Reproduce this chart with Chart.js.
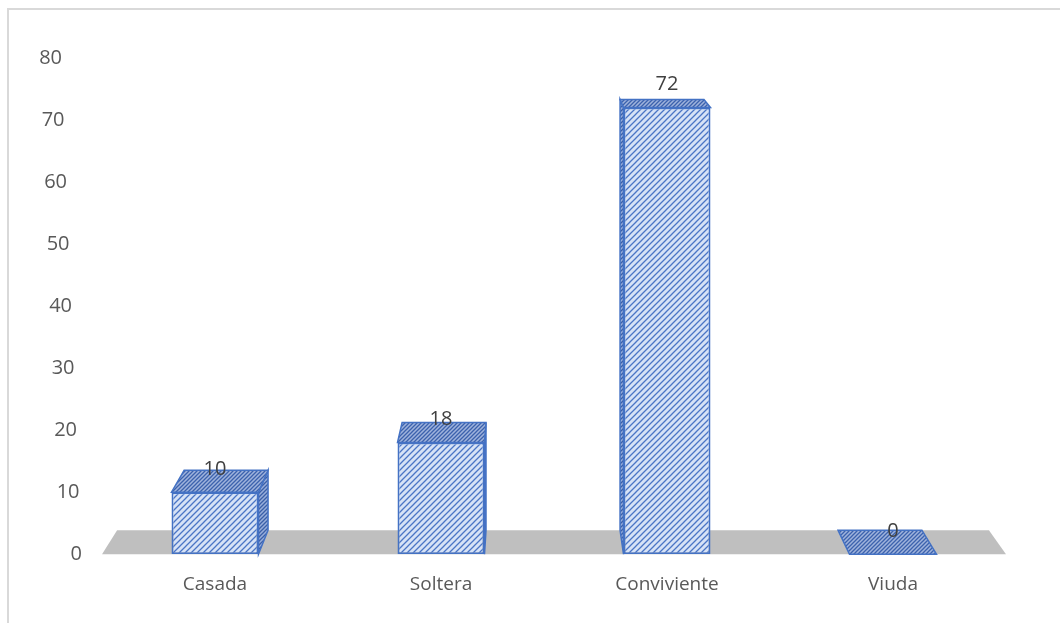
<!DOCTYPE html>
<html>
<head>
<meta charset="utf-8">
<script src="https://cdn.jsdelivr.net/npm/chart.js@4.4.1/dist/chart.umd.min.js"></script>
<style>
  html, body { margin: 0; padding: 0; background: #fff; overflow: hidden; }
  #frame {
    position: absolute; left: 7px; top: 8px; width: 1100px; height: 700px;
    border-left: 2px solid #d9d9d9; border-top: 2px solid #d9d9d9;
  }
  #wrap { position: absolute; left: 0; top: 0; width: 1060px; height: 623px; }
</style>
</head>
<body>
<div id="frame"></div>
<div id="wrap"><canvas id="chart"></canvas></div>
<script>
const categories = ['Casada', 'Soltera', 'Conviviente', 'Viuda'];
const values = [10, 18, 72, 0];
const yTicks = [0, 10, 20, 30, 40, 50, 60, 70, 80];

// diagonal hatch tile, lines going "/"
function hatch(bg, line, size, lw) {
  const c = document.createElement('canvas');
  c.width = size; c.height = size;
  const g = c.getContext('2d');
  g.fillStyle = bg;
  g.fillRect(0, 0, size, size);
  g.strokeStyle = line;
  g.lineWidth = lw;
  g.beginPath();
  g.moveTo(0, size); g.lineTo(size, 0);
  g.moveTo(-1, 1); g.lineTo(1, -1);
  g.moveTo(size - 1, size + 1); g.lineTo(size + 1, size - 1);
  g.stroke();
  return document.createElement('canvas').getContext('2d').createPattern(c, 'repeat');
}

const frontFill = hatch('#d6e2f6', '#4a75c5', 6, 1.3);
const topFill = hatch('#9fb3dc', '#3c62ad', 4, 1.3);
const sideFill = hatch('#98aedb', '#3a5fa8', 4, 1.3);
const edge = '#4472c4';

// simple perspective: back points pulled toward a vanishing point
function backPoint(vp, k, px, py) {
  return [px + (vp.x - px) * k, py + (vp.y - py) * k];
}

function poly(ctx, pts, fill, stroke) {
  ctx.beginPath();
  ctx.moveTo(pts[0][0], pts[0][1]);
  for (let i = 1; i < pts.length; i++) ctx.lineTo(pts[i][0], pts[i][1]);
  ctx.closePath();
  ctx.fillStyle = fill;
  ctx.fill();
  if (stroke) {
    ctx.strokeStyle = stroke;
    ctx.lineWidth = 1.5;
    ctx.stroke();
  }
}

const bar3d = {
  id: 'bar3d',
  beforeDatasetsDraw(chart) {
    const { ctx, chartArea: a } = chart;
    const vp = { x: a.left + 0.47 * (a.right - a.left), y: a.top - 180 };
    const k = 0.0356;
    const bp = (x, y) => backPoint(vp, k, x, y);
    ctx.save();
    // floor
    poly(ctx, [[a.left, a.bottom], [a.right, a.bottom], bp(a.right, a.bottom), bp(a.left, a.bottom)], '#bfbfbf');
    // sides and tops
    chart.getDatasetMeta(0).data.forEach((el) => {
      const l = el.x - el.width / 2, r = el.x + el.width / 2, t = el.y, b = el.base;
      if (t < b - 1) {
        if (vp.x > r) {
          poly(ctx, [[r, t], bp(r, t), bp(r, b), [r, b]], sideFill, edge);
        } else if (vp.x < l) {
          poly(ctx, [[l, t], bp(l, t), bp(l, b), [l, b]], sideFill, edge);
        }
      }
      poly(ctx, [[l, t], [r, t], bp(r, t), bp(l, t)], topFill, edge);
    });
    ctx.restore();
  },
  afterDatasetsDraw(chart) {
    const { ctx, chartArea: a, scales: { y } } = chart;
    ctx.save();
    ctx.font = '20px "Open Sans"';
    ctx.textBaseline = 'middle';
    // value labels
    ctx.fillStyle = '#404040';
    ctx.textAlign = 'center';
    chart.getDatasetMeta(0).data.forEach((el, i) => {
      ctx.fillText(String(values[i]), el.x, el.y - 23);
    });
    // y tick labels, slanted along the back wall
    ctx.fillStyle = '#595959';
    ctx.textAlign = 'right';
    yTicks.forEach((v) => {
      const py = y.getPixelForValue(v);
      const px = a.left - 20 - (v / 80) * 20;
      ctx.fillText(String(v), px, py);
    });
    ctx.restore();
  }
};

new Chart(document.getElementById('chart'), {
  type: 'bar',
  data: {
    labels: categories,
    datasets: [{
      data: values,
      backgroundColor: frontFill,
      borderColor: edge,
      borderWidth: 2,
      borderSkipped: false,
      barPercentage: 1,
      categoryPercentage: 0.385
    }]
  },
  options: {
    responsive: true,
    maintainAspectRatio: false,
    animation: false,
    layout: { padding: { left: 102, right: 54, top: 58, bottom: 16 } },
    plugins: { legend: { display: false }, tooltip: { enabled: false } },
    scales: {
      y: { display: false, min: 0, max: 80 },
      x: {
        grid: { display: false },
        border: { display: false },
        ticks: {
          color: '#595959',
          padding: 11,
          font: { size: 19, family: 'Open Sans' }
        }
      }
    }
  },
  plugins: [bar3d]
});
</script>
</body>
</html>
